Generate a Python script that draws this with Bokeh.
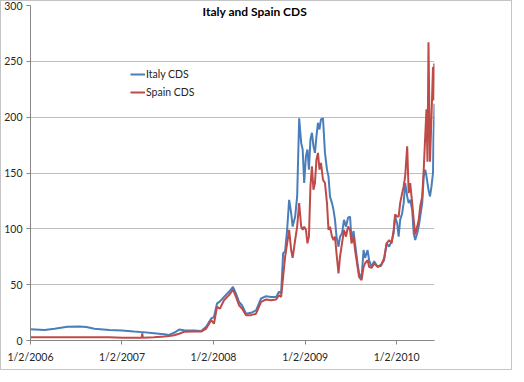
import pandas as pd
from bokeh.plotting import figure
from bokeh.models import Range1d, FixedTicker, Label, Legend, LegendItem
from bokeh.embed import file_html
from bokeh.resources import INLINE

dates = [
    "2006-01-02", "2006-02-27", "2006-04-08", "2006-05-29", "2006-07-16", "2006-08-13", "2006-09-14", "2006-11-13",
    "2007-01-02", "2007-02-19", "2007-03-22", "2007-03-24", "2007-03-26", "2007-05-10", "2007-06-19", "2007-07-09",
    "2007-07-29", "2007-08-18", "2007-09-07", "2007-10-17", "2007-11-14", "2007-12-04", "2007-12-24",
    "2008-01-04", "2008-01-16", "2008-01-28", "2008-02-13", "2008-03-04", "2008-03-20", "2008-04-01", "2008-04-13",
    "2008-04-25", "2008-05-11", "2008-05-31", "2008-06-20", "2008-07-10", "2008-07-30", "2008-08-19", "2008-09-08",
    "2008-09-20", "2008-09-28", "2008-10-06", "2008-10-14", "2008-10-22", "2008-10-30", "2008-11-07", "2008-11-13",
    "2008-11-23", "2008-12-01", "2008-12-09", "2008-12-17", "2008-12-23", "2008-12-29",
    "2009-01-05", "2009-01-11", "2009-01-17", "2009-01-23", "2009-01-29", "2009-02-04", "2009-02-10", "2009-02-16",
    "2009-02-22", "2009-02-28", "2009-03-06", "2009-03-14", "2009-03-22", "2009-03-30", "2009-04-05", "2009-04-11",
    "2009-04-19", "2009-04-25", "2009-05-01", "2009-05-07", "2009-05-15", "2009-05-21", "2009-05-29", "2009-06-06",
    "2009-06-14", "2009-06-22", "2009-06-30", "2009-07-06", "2009-07-14", "2009-07-20", "2009-07-30", "2009-08-05",
    "2009-08-15", "2009-08-23", "2009-08-29", "2009-09-08", "2009-09-14", "2009-09-24", "2009-10-04", "2009-10-18",
    "2009-11-01", "2009-11-13", "2009-11-23", "2009-12-03", "2009-12-13", "2009-12-21", "2009-12-27",
    "2010-01-04", "2010-01-10", "2010-01-16", "2010-01-24", "2010-01-30", "2010-02-05", "2010-02-13", "2010-02-19",
    "2010-02-25", "2010-03-05", "2010-03-11", "2010-03-17", "2010-03-25", "2010-03-31", "2010-04-06", "2010-04-14",
    "2010-04-20", "2010-04-26", "2010-05-01", "2010-05-05", "2010-05-09", "2010-05-15", "2010-05-21", "2010-05-27",
    "2010-05-29", "2010-06-01", "2010-06-02",
]

italy = [
    10, 9.5, 10.5, 12.3, 12.5, 12, 10.5, 9.5,
    9, 8, 7.5, 7.5, 7.5, 6.5, 5.5, 5, 6.9, 9.8, 9.2, 9, 8.5, 12.3, 19.7,
    21, 33, 35, 39, 43.6, 48, 42, 34.6, 31.6, 24, 24.8, 27, 37.6, 39.7, 39, 39, 43.8, 42,
    78, 80, 99, 126, 114, 102, 111, 129, 199, 177, 171, 141,
    165, 171, 153, 180, 186, 174, 168, 183, 195, 189, 198, 199, 168, 153, 147, 129, 123, 117,
    108, 93, 84, 93, 96, 108, 102, 110, 111, 90, 98, 87, 69, 60, 56, 81, 74, 81, 72, 66, 71, 66,
    68, 72, 87, 84, 89, 96, 111,
    105, 93, 108, 114, 123, 141, 129, 123, 126, 117, 96, 90, 96, 102, 111, 123, 147, 153,
    147, 141, 135, 129, 138, 150, 183, 200, 212,
]

spain = [
    3, 3, 3, 3, 3, 3, 3, 3,
    2.5, 2.5, 2.5, 6.5, 2.5, 3, 3.5, 4, 4.7, 6, 7.8, 8, 8, 10.7, 18.2,
    15, 30, 28.6, 36, 40.6, 45.6, 39, 31.6, 28.6, 22.7, 22.7, 24, 34.6, 36.7, 36, 36.7, 40.6, 39,
    57, 75, 87, 99, 81, 74, 90, 102, 123, 102, 99, 102,
    99, 87, 93, 138, 156, 135, 141, 162, 168, 153, 159, 144, 141, 123, 99, 102, 93, 90,
    93, 78, 60, 75, 87, 99, 93, 102, 99, 87, 93, 81, 66, 57, 54, 66, 69, 72, 66, 65, 69, 66,
    67, 74, 87, 90, 87, 99, 113,
    111, 111, 123, 132, 138, 147, 174, 132, 141, 123, 108, 95, 102, 108, 120, 129, 153, 183,
    207, 160, 267, 160, 200, 245, 215, 248, 246,
]

series_names = ["Italy CDS", "Spain CDS"]
y_ticks = [0, 50, 100, 150, 200, 250, 300]
x_tick_dates = ["2006-01-02", "2007-01-02", "2008-01-02", "2009-01-02", "2010-01-02"]
x_tick_labels = ["1/2/2006", "1/2/2007", "1/2/2008", "1/2/2009", "1/2/2010"]
chart_title = "Italy and Spain CDS"


def ms(s):
    return pd.Timestamp(s).value / 1e6


x = pd.to_datetime(dates)

p = figure(
    width=512, height=370,
    x_axis_type="datetime",
    x_range=Range1d(ms("2006-01-02"), ms("2010-06-02")),
    y_range=Range1d(0, 300),
    output_backend="svg", toolbar_location=None,
    min_border_left=28, min_border_right=79, min_border_top=4, min_border_bottom=31,
    background_fill_color="white", border_fill_color="white",
    styles={"border": "1px solid #C4C4C4", "box-sizing": "border-box"},
)
p.outline_line_color = None

r1 = p.line(x, italy, color="#4A7EBB", line_width=2)
r2 = p.line(x, spain, color="#BE4B48", line_width=2)

font = "Lato"
# y axis
p.yaxis.ticker = FixedTicker(ticks=y_ticks)
p.yaxis.axis_line_color = "#868686"
p.yaxis.major_tick_line_color = "#868686"
p.yaxis.major_tick_out = 4
p.yaxis.major_tick_in = 0
p.yaxis.minor_tick_line_color = None
p.yaxis.major_label_text_font = font
p.yaxis.major_label_text_font_size = "10.5px"
p.yaxis.major_label_text_color = "#262626"
p.yaxis.major_label_standoff = 4

# x axis
xt = [ms(d) for d in x_tick_dates]
p.xaxis.ticker = FixedTicker(ticks=xt)
p.xaxis.major_label_overrides = {t: lab for t, lab in zip(xt, x_tick_labels)}
p.xaxis.axis_line_color = "#868686"
p.xaxis.major_tick_line_color = "#868686"
p.xaxis.major_tick_out = 4
p.xaxis.major_tick_in = 0
p.xaxis.minor_tick_line_color = None
p.xaxis.major_label_text_font = font
p.xaxis.major_label_text_font_size = "10.5px"
p.xaxis.major_label_text_color = "#262626"
p.xaxis.major_label_standoff = 6

p.xgrid.visible = False
p.ygrid.ticker = FixedTicker(ticks=y_ticks)
p.ygrid.grid_line_color = "#BEBEBE"
p.ygrid.grid_line_width = 1

legend = Legend(
    items=[LegendItem(label=series_names[0], renderers=[r1]),
           LegendItem(label=series_names[1], renderers=[r2])],
    location=(100, 239),
    padding=0, margin=0, spacing=0,
    border_line_color=None, background_fill_alpha=0,
    glyph_width=15, glyph_height=18, label_height=18, label_standoff=1,
    label_text_font=font, label_text_font_size="10.5px", label_text_color="#262626",
)
p.add_layout(legend)

title = Label(
    x=ms("2008-06-15"), y=294.5, text=chart_title,
    text_align="center", text_baseline="middle",
    text_font=font, text_font_style="bold", text_font_size="12px", text_color="#000000",
)
p.add_layout(title)

open("out.html", "w").write(file_html(p, INLINE))
